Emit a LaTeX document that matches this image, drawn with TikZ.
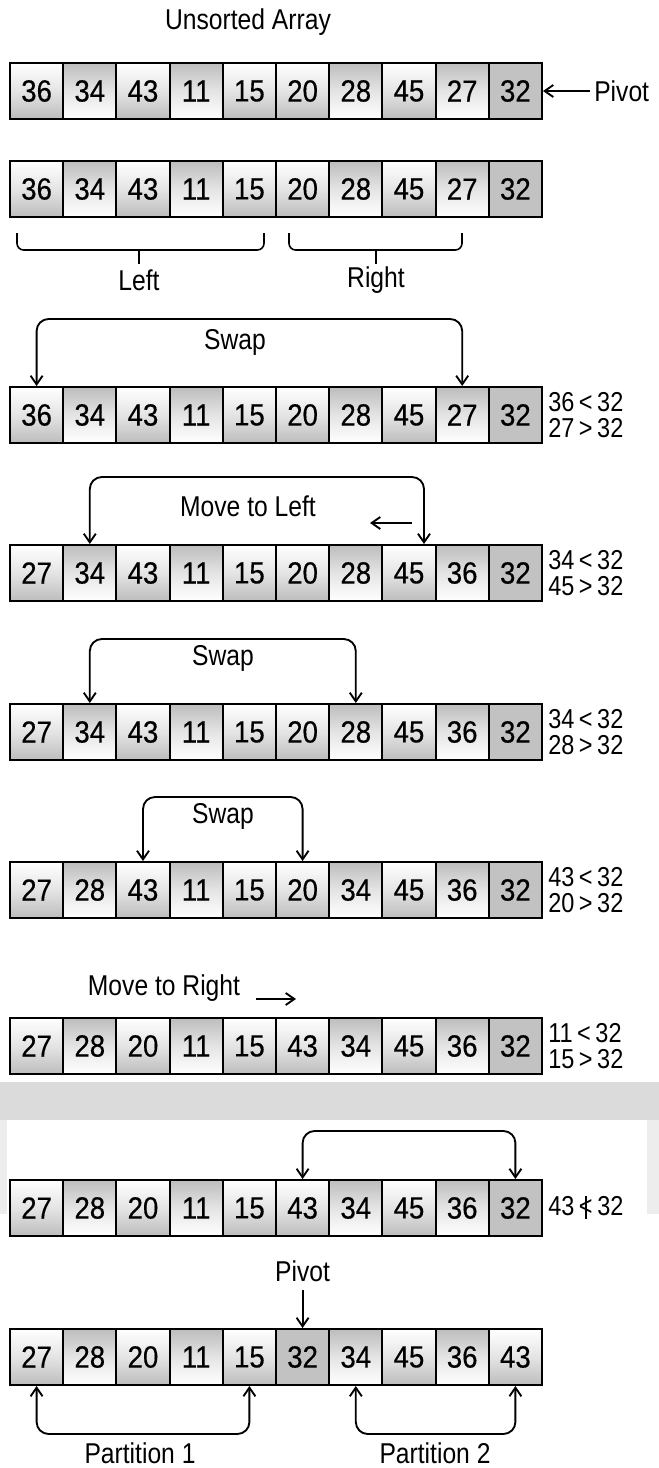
\documentclass[tikz,border=0pt]{standalone}
\usepackage{fontspec}
\setmainfont{Liberation Sans}[FakeStretch=0.86]
\newfontfamily\numfont{Liberation Sans}[FakeStretch=0.9, FakeBold=0.4]
\usetikzlibrary{arrows.meta,calc}
\definecolor{cellgray}{gray}{0.74}
\definecolor{pivgray}{gray}{0.76}
\definecolor{bandgray}{gray}{0.86}
\tikzset{
  cell/.style={draw=black, line width=1.5pt, minimum width=39.9pt, minimum height=42pt,
    inner sep=0pt, font=\numfont\fontsize{23}{26}\selectfont},
  ga/.style={top color=white, bottom color=cellgray, middle color=white!60!cellgray},
  gb/.style={top color=cellgray, bottom color=white, middle color=white!60!cellgray},
  gp/.style={fill=pivgray},
  lbl/.style={inner sep=0pt, font=\fontsize{21.5}{25}\selectfont},
  cmp/.style={inner sep=0pt, anchor=west, align=left, font=\fontsize{20.5}{20}\selectfont},
  conn/.style={draw=black, line width=1.4pt, rounded corners=9pt},
  tip/.style={-{Straight Barb[length=6.5pt,width=9pt]}},
  both/.style={{Straight Barb[length=6.5pt,width=9pt]}-{Straight Barb[length=6.5pt,width=9pt]}},
  bracket/.style={draw=black, line width=1.2pt, rounded corners=5pt}
}
\newcommand\arrayrow[3]{%
  \foreach \v/\s [count=\i] in {#3} {%
    \node[cell,\s] (#1c\i) at ({10+53.2*(\i-0.5)},#2) {\v};}}
\newcommand\nlt{\ooalign{<\cr\hfil\rule[-0.12em]{0.07em}{0.85em}\hfil\cr}}
\begin{document}
\begin{tikzpicture}[x=0.75pt,y=-0.75pt]
\useasboundingbox (0,0) rectangle (659,1468);
\fill[white] (0,0) rectangle (659,1468);
% faint scan band
\fill[bandgray] (0,1082) rectangle (659,1120);
\fill[bandgray!50] (0,1120) rectangle (7,1214);
\fill[bandgray!50] (647,1120) rectangle (659,1214);

% Row 1
\node[lbl] (title) at (248,22) {Unsorted Array};
\arrayrow{r1}{91}{36/ga,34/gb,43/ga,11/gb,15/ga,20/ga,28/gb,45/ga,27/gb,32/gp}
\node[lbl, anchor=west, inner sep=3pt] (piv1) at (590,91) {Pivot};
\draw[conn,tip] (piv1.west) -- (r1c10.east);

% Row 2
\arrayrow{r2}{189}{36/ga,34/gb,43/ga,11/gb,15/ga,20/ga,28/gb,45/ga,27/gb,32/gp}
\draw[bracket] (17,233) -- (17,250) -- (264,250) -- (264,233);
\draw[bracket] (139,250) -- (139,264);
\draw[bracket] (289,233) -- (289,250) -- (462,250) -- (462,233);
\draw[bracket] (376,250) -- (376,264);
\node[lbl] (left) at (139,280) {Left};
\node[lbl] (right) at (376,280) {Right};

% Row 3
\arrayrow{r3}{415}{36/ga,34/gb,43/ga,11/gb,15/ga,20/ga,28/gb,45/ga,27/gb,32/gp}
\coordinate (a3l) at (r3c1.north |- 0,319);
\coordinate (a3r) at (r3c9.north |- 0,319);
\draw[conn,both] (r3c1.north) -- (a3l) -- (a3r) -- (r3c9.north);
\node[lbl] (swap3) at (235,342) {Swap};
\node[cmp] (c3) at (548,415) {36\,<\,32\\27\,>\,32};

% Row 4
\arrayrow{r4}{573}{27/ga,34/gb,43/ga,11/gb,15/ga,20/ga,28/gb,45/ga,36/gb,32/gp}
\coordinate (t4r) at ($(r4c8.north)+(15,0)$);
\coordinate (a4l) at (r4c2.north |- 0,477);
\coordinate (a4r) at (t4r |- 0,477);
\draw[conn,both] (r4c2.north) -- (a4l) -- (a4r) -- (t4r);
\node[lbl] (move4) at (248,506) {Move to Left};
\coordinate (m4a) at (412,523);
\coordinate (m4b) at (370,523);
\draw[conn,tip] (m4a) -- (m4b);
\node[cmp] (c4) at (548,573) {34\,<\,32\\45\,>\,32};

% Row 5
\arrayrow{r5}{732}{27/ga,34/gb,43/ga,11/gb,15/ga,20/ga,28/gb,45/ga,36/gb,32/gp}
\coordinate (a5l) at (r5c2.north |- 0,639);
\coordinate (a5r) at (r5c7.north |- 0,639);
\draw[conn,both] (r5c2.north) -- (a5l) -- (a5r) -- (r5c7.north);
\node[lbl] (swap5) at (223,658) {Swap};
\node[cmp] (c5) at (548,732) {34\,<\,32\\28\,>\,32};

% Row 6
\arrayrow{r6}{890}{27/ga,28/gb,43/ga,11/gb,15/ga,20/ga,34/gb,45/ga,36/gb,32/gp}
\coordinate (a6l) at (r6c3.north |- 0,797);
\coordinate (a6r) at (r6c6.north |- 0,797);
\draw[conn,both] (r6c3.north) -- (a6l) -- (a6r) -- (r6c6.north);
\node[lbl] (swap6) at (223,816) {Swap};
\node[cmp] (c6) at (548,890) {43\,<\,32\\20\,>\,32};

% Row 7
\arrayrow{r7}{1046}{27/ga,28/gb,20/ga,11/gb,15/ga,43/ga,34/gb,45/ga,36/gb,32/gp}
\node[lbl] (move7) at (164,988) {Move to Right};
\coordinate (m7a) at (256,999);
\coordinate (m7b) at (296,999);
\draw[conn,tip] (m7a) -- (m7b);
\node[cmp] (c7) at (548,1046) {11\,<\,32\\15\,>\,32};

% Row 8
\arrayrow{r8}{1208}{27/ga,28/gb,20/ga,11/gb,15/ga,43/ga,34/gb,45/ga,36/gb,32/gp}
\coordinate (a8l) at (r8c6.north |- 0,1131);
\coordinate (a8r) at (r8c10.north |- 0,1131);
\draw[conn,both] (r8c6.north) -- (a8l) -- (a8r) -- (r8c10.north);
\node[cmp] (c8) at (548,1208) {43\,\nlt\,32};

% Row 9
\arrayrow{r9}{1357}{27/ga,28/gb,20/ga,11/gb,15/ga,32/gp,34/gb,45/ga,36/gb,43/ga}
\node[lbl] (piv9) at (r9c6.north |- 0,1271) {Pivot};
\coordinate (p9) at (r9c6.north |- 0,1290);
\draw[conn,tip] (p9) -- (r9c6.north);
\coordinate (b9a) at (r9c1.south |- 0,1434);
\coordinate (b9b) at (r9c5.south |- 0,1434);
\draw[conn,both] (r9c1.south) -- (b9a) -- (b9b) -- (r9c5.south);
\coordinate (b9c) at (r9c7.south |- 0,1434);
\coordinate (b9d) at (r9c10.south |- 0,1434);
\draw[conn,both] (r9c7.south) -- (b9c) -- (b9d) -- (r9c10.south);
\node[lbl] (part1) at (140,1453) {Partition 1};
\node[lbl] (part2) at (435,1453) {Partition 2};
\end{tikzpicture}
\end{document}
